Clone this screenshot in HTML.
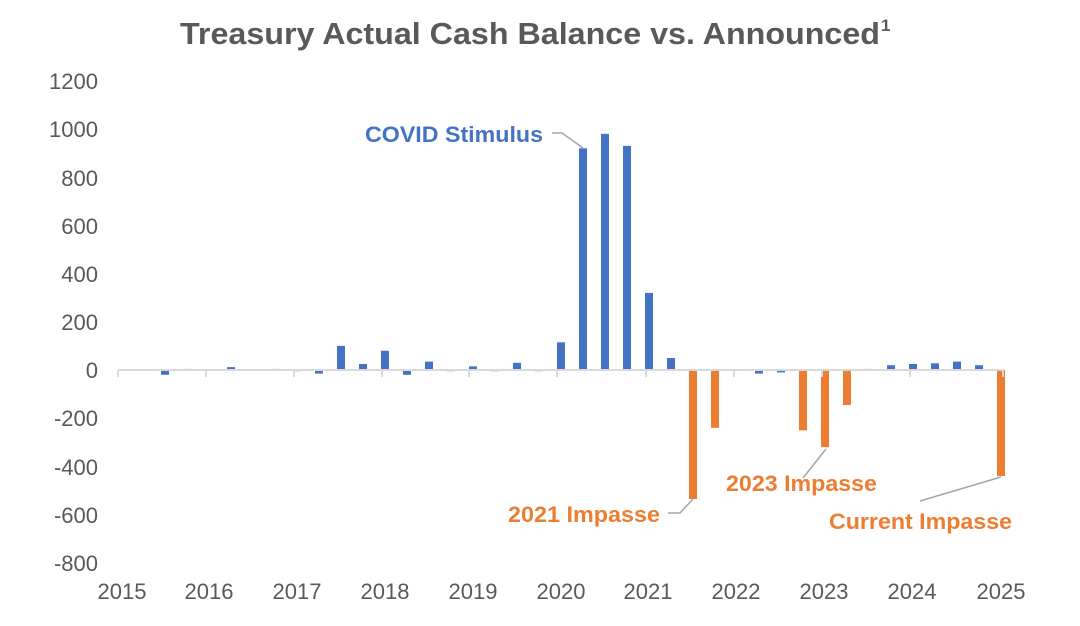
<!DOCTYPE html>
<html><head><style>body{margin:0;background:#fff}svg{display:block;font-family:"Liberation Sans",Arial,sans-serif}</style></head><body>
<svg width="1080" height="626" viewBox="0 0 1080 626">
<text x="530" y="44" text-anchor="middle" font-size="31" font-weight="bold" fill="#595959" textLength="700" lengthAdjust="spacingAndGlyphs">Treasury Actual Cash Balance vs. Announced</text>
<text x="881" y="31" font-size="17" font-weight="bold" fill="#595959">1</text>
<g font-size="22" fill="#595959" text-anchor="end">
<text x="98" y="89">1200</text><text x="98" y="137">1000</text><text x="98" y="186">800</text><text x="98" y="234">600</text><text x="98" y="282">400</text><text x="98" y="330">200</text><text x="98" y="378">0</text><text x="98" y="426">-200</text><text x="98" y="475">-400</text><text x="98" y="523">-600</text><text x="98" y="571">-800</text>
</g>
<g font-size="22" fill="#595959" text-anchor="middle">
<text x="122" y="599">2015</text><text x="209" y="599">2016</text><text x="297" y="599">2017</text><text x="385" y="599">2018</text><text x="473" y="599">2019</text><text x="561" y="599">2020</text><text x="648" y="599">2021</text><text x="736" y="599">2022</text><text x="824" y="599">2023</text><text x="912" y="599">2024</text><text x="1001" y="599">2025</text>
</g>
<g fill="#4472c4">
<rect x="139" y="370" width="8" height="1" fill="#a9bce3"/>
<rect x="161" y="370" width="8" height="4.8"/>
<rect x="183" y="368.8" width="8" height="1.2" fill="#a9bce3"/>
<rect x="205" y="370" width="8" height="1" fill="#a9bce3"/>
<rect x="227" y="367.1" width="8" height="2.9"/>
<rect x="271" y="368.8" width="8" height="1.2" fill="#a9bce3"/>
<rect x="293" y="370" width="8" height="1.2"/>
<rect x="315" y="370" width="8" height="3.6"/>
<rect x="337" y="345.9" width="8" height="24.1"/>
<rect x="359" y="364" width="8" height="6"/>
<rect x="381" y="350.7" width="8" height="19.3"/>
<rect x="403" y="370" width="8" height="4.8"/>
<rect x="425" y="361.6" width="8" height="8.4"/>
<rect x="447" y="370" width="8" height="1.2"/>
<rect x="469" y="366.4" width="8" height="3.6"/>
<rect x="491" y="370" width="8" height="1.2"/>
<rect x="513" y="362.8" width="8" height="7.2"/>
<rect x="535" y="370" width="8" height="1.2"/>
<rect x="557" y="342.3" width="8" height="27.7"/>
<rect x="579" y="148.3" width="8" height="221.7"/>
<rect x="601" y="133.8" width="8" height="236.2"/>
<rect x="623" y="145.9" width="8" height="224.1"/>
<rect x="645" y="292.9" width="8" height="77.1"/>
<rect x="667" y="358" width="8" height="12"/>
<rect x="755" y="370" width="8" height="3.6"/>
<rect x="777" y="370" width="8" height="2.4"/>
<rect x="865" y="368.8" width="8" height="1.2" fill="#a9bce3"/>
<rect x="887" y="365.2" width="8" height="4.8"/>
<rect x="909" y="364" width="8" height="6"/>
<rect x="931" y="363.3" width="8" height="6.7"/>
<rect x="953" y="361.6" width="8" height="8.4"/>
<rect x="975" y="365.2" width="8" height="4.8"/>
</g>
<g fill="#ed7d31">
<rect x="689" y="370" width="8" height="129"/>
<rect x="711" y="370" width="8" height="57.8"/>
<rect x="799" y="370" width="8" height="60.3"/>
<rect x="821" y="370" width="8" height="77.1"/>
<rect x="843" y="370" width="8" height="35"/>
<rect x="997" y="370" width="8" height="106"/>
</g>
<g stroke="#d9d9d9" stroke-width="2">
<line x1="118" y1="370" x2="1004" y2="370"/>
<line x1="118" y1="370" x2="118" y2="377"/><line x1="206" y1="370" x2="206" y2="377"/><line x1="294" y1="370" x2="294" y2="377"/><line x1="382" y1="370" x2="382" y2="377"/><line x1="469" y1="370" x2="469" y2="377"/><line x1="557" y1="370" x2="557" y2="377"/><line x1="646" y1="370" x2="646" y2="377"/><line x1="734" y1="370" x2="734" y2="377"/><line x1="822" y1="370" x2="822" y2="377"/><line x1="910" y1="370" x2="910" y2="377"/><line x1="1003" y1="370" x2="1003" y2="377"/>
</g>
<g stroke="#a6a6a6" stroke-width="1.5" fill="none">
<polyline points="552,133 562,133 583,148"/>
<polyline points="668,513 680,513 693,499"/>
<polyline points="803,478 826,449"/>
<polyline points="920,501 1001,477"/>
</g>
<g font-size="22" font-weight="bold">
<text x="365" y="142" fill="#4472c4" textLength="178" lengthAdjust="spacingAndGlyphs">COVID Stimulus</text>
<text x="508" y="522" fill="#ed7d31" textLength="152" lengthAdjust="spacingAndGlyphs">2021 Impasse</text>
<text x="726" y="491" fill="#ed7d31" textLength="151" lengthAdjust="spacingAndGlyphs">2023 Impasse</text>
<text x="829" y="529" fill="#ed7d31" textLength="183" lengthAdjust="spacingAndGlyphs">Current Impasse</text>
</g>
</svg>
</body></html>
